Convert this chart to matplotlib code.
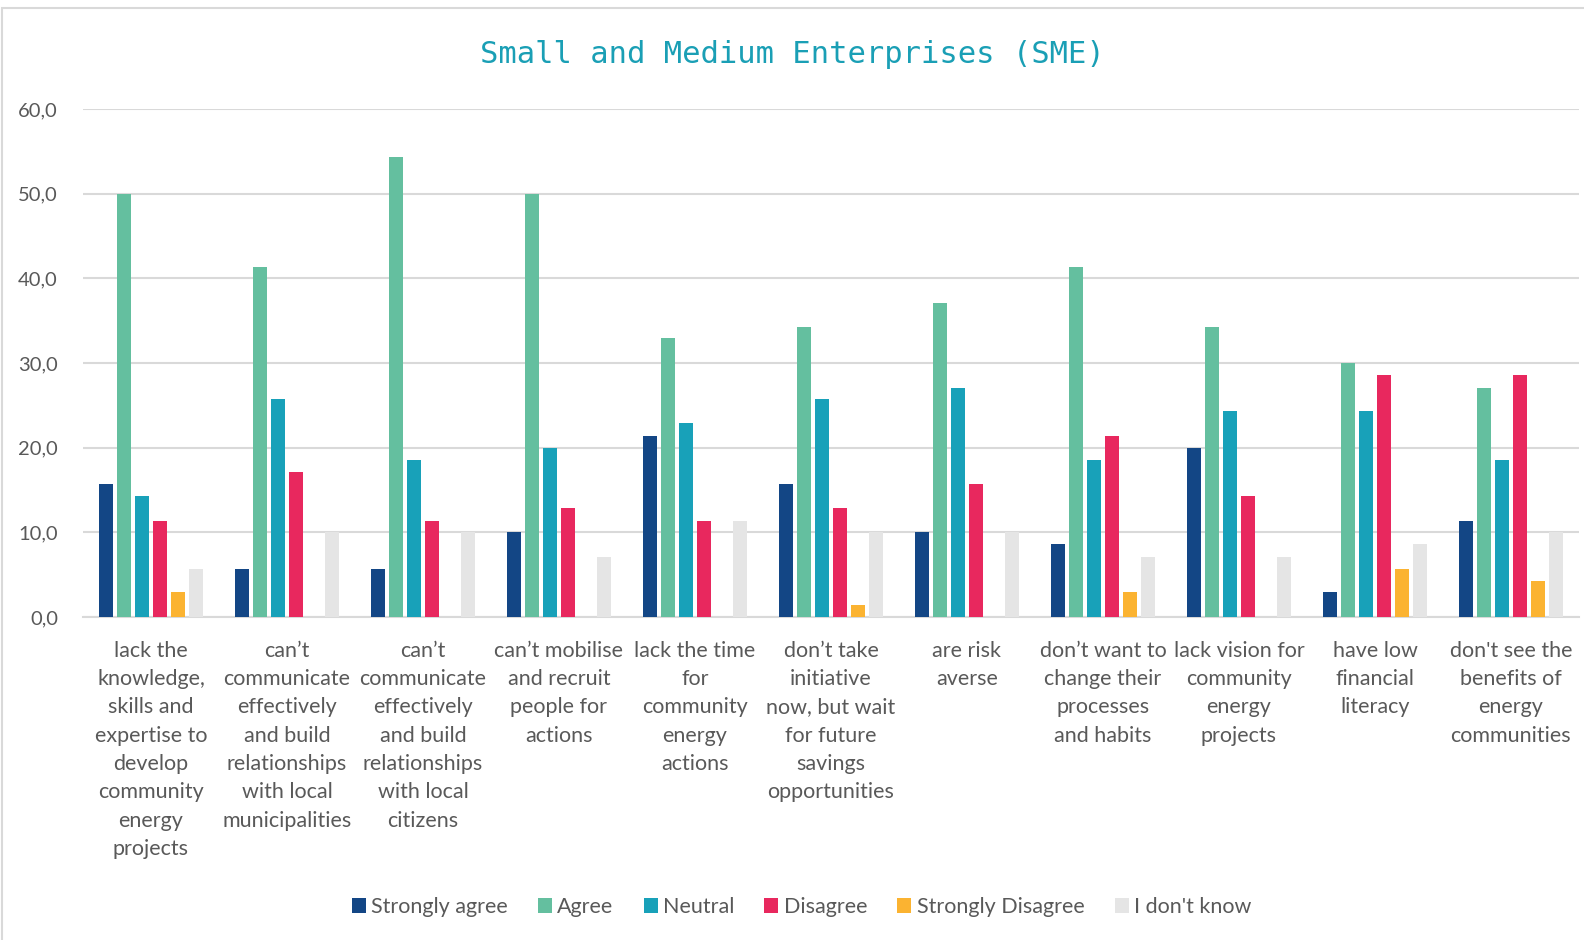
import numpy as np
import matplotlib.pyplot as plt
from matplotlib.patches import Rectangle

categories = [
    "lack the\nknowledge,\nskills and\nexpertise to\ndevelop\ncommunity\nenergy\nprojects",
    "can\u2019t\ncommunicate\neffectively\nand build\nrelationships\nwith local\nmunicipalities",
    "can\u2019t\ncommunicate\neffectively\nand build\nrelationships\nwith local\ncitizens",
    "can\u2019t mobilise\nand recruit\npeople for\nactions",
    "lack the time\nfor\ncommunity\nenergy\nactions",
    "don\u2019t take\ninitiative\nnow, but wait\nfor future\nsavings\nopportunities",
    "are risk\naverse",
    "don\u2019t want to\nchange their\nprocesses\nand habits",
    "lack vision for\ncommunity\nenergy\nprojects",
    "have low\nfinancial\nliteracy",
    "don't see the\nbenefits of\nenergy\ncommunities",
]

series_names = ["Strongly agree", "Agree", "Neutral", "Disagree",
                "Strongly Disagree", "I don't know"]
strongly_agree = [15.7, 5.7, 5.7, 10.0, 21.4, 15.7, 10.0, 8.6, 20.0, 2.9, 11.4]
agree = [50.0, 41.4, 54.3, 50.0, 32.9, 34.3, 37.1, 41.4, 34.3, 30.0, 27.1]
neutral = [14.3, 25.7, 18.6, 20.0, 22.9, 25.7, 27.1, 18.6, 24.3, 24.3, 18.6]
disagree = [11.4, 17.1, 11.4, 12.9, 11.4, 12.9, 15.7, 21.4, 14.3, 28.6, 28.6]
strongly_disagree = [2.9, 0.0, 0.0, 0.0, 0.0, 1.4, 0.0, 2.9, 0.0, 5.7, 4.3]
dont_know = [5.7, 10.0, 10.0, 7.1, 11.4, 10.0, 10.0, 7.1, 7.1, 8.6, 10.0]
series = [strongly_agree, agree, neutral, disagree, strongly_disagree, dont_know]
colors = ["#134685", "#64bf9f", "#18a1b9", "#e8285e", "#fbb331", "#e5e5e5"]

txt = "#595959"
plt.rcParams['font.family'] = ['Lato', 'DejaVu Sans']

fig = plt.figure(figsize=(15.84, 9.4), dpi=100)
ax = fig.add_axes([0.0524, 0.3436, 0.9444, 0.5404])

# light frame around the chart
fig.patches.append(Rectangle((0.001, -0.1), 1.2, 1.1 - 8 / 940, transform=fig.transFigure,
                             fill=False, edgecolor="#d9d9d9", linewidth=1.5))

x = np.arange(len(categories))
pitch = 0.132
width = 0.107
for i, (name, vals, c) in enumerate(zip(series_names, series, colors)):
    ax.bar(x + (i - 2.5) * pitch, vals, width, color=c, label=name, zorder=3)

ax.set_xlim(-0.5, len(categories) - 0.5)
ax.set_ylim(0, 60)
ax.set_yticks(np.arange(0, 61, 10))
ax.set_yticklabels([f"{v:.1f}".replace(".", ",") for v in np.arange(0, 61, 10)],
                   fontsize=14.5, color=txt)
ax.set_xticks(x)
ax.set_xticklabels(categories, fontsize=15.5, color=txt, linespacing=1.52, va="top")
ax.tick_params(axis="both", length=0)
ax.tick_params(axis="x", pad=17)
ax.tick_params(axis="y", pad=18)
ax.grid(axis="y", color="#d9d9d9", linewidth=1.5, zorder=0)
for s in ["top", "right", "left"]:
    ax.spines[s].set_visible(False)
ax.spines["bottom"].set_color("#d9d9d9")
ax.spines["bottom"].set_linewidth(1.5)

fig.text(0.5, 0.942, "Small and Medium Enterprises (SME)", ha="center", va="center",
         fontsize=22, color="#1a9fb5", family="DejaVu Sans Mono")

fig.legend(loc="center", bbox_to_anchor=(0.506, 0.035), ncol=6, frameon=False,
           fontsize=15.5, handlelength=0.65, handleheight=0.7, handletextpad=0.25,
           columnspacing=1.4, labelcolor=txt)

fig.savefig("out.png", dpi=100)
